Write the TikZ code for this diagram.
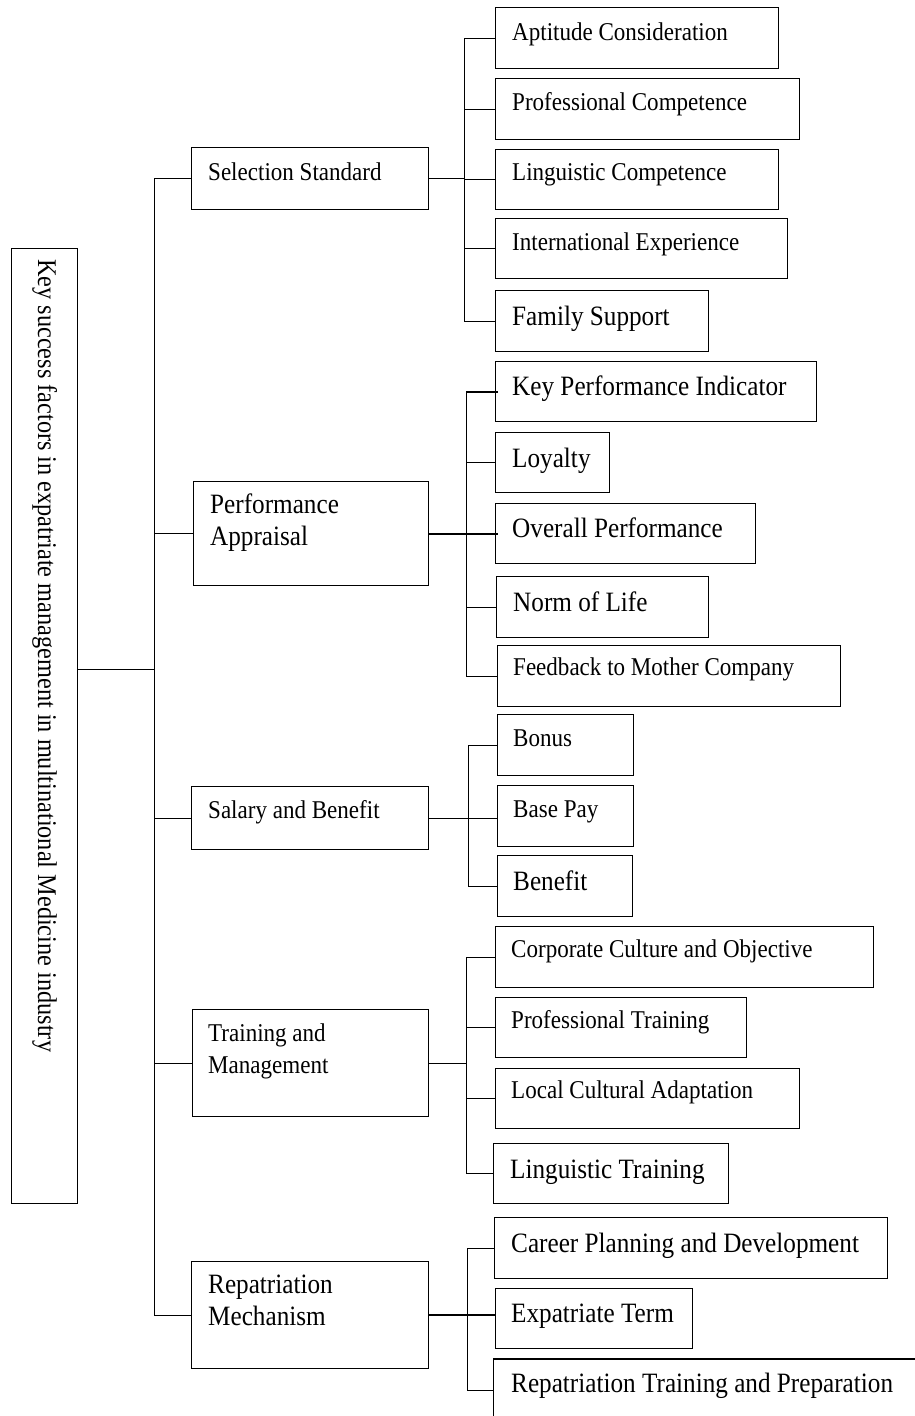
\documentclass[tikz,border=0pt]{standalone}
\usepackage{fontspec}
\setmainfont{Liberation Serif}[FakeStretch=0.9]
\newcommand\fsmall{\fontsize{25.6}{30}\selectfont}
\newcommand\flarge{\fontsize{28}{32}\selectfont}
\newcommand\froot{\fontsize{27}{32}\selectfont}
\tikzset{
  boxn/.style={draw=black, line width=1.2pt, inner sep=0pt, anchor=north west},
  lbl/.style={anchor=base west, inner sep=0pt, text=black},
  sm/.style={lbl, font=\fsmall},
  lg/.style={lbl, font=\flarge},
  conn/.style={line width=1pt},
  mconn/.style={line width=1.6pt},
  tconn/.style={line width=2.2pt},
}
\newcommand\bx[5]{\node[boxn, minimum width=#4pt, minimum height=#5pt] (#1) at (#2,#3) {};}
\begin{document}
\begin{tikzpicture}[x=1pt,y=-1pt]
\useasboundingbox (0,0) rectangle (915,1416);
\clip (0,0) rectangle (915,1416);
\fill[white] (0,0) rectangle (915,1416);

% root
\bx{root}{11}{248}{66}{955}
\node[lbl, font=\froot, rotate=-90] (root-t) at (38,259) {Key success factors in expatriate management in multinational Medicine industry};

% level 1
\bx{sel}{191}{147}{237}{62}
\node[sm] (sel-t) at (208,180) {Selection Standard};
\bx{perf}{193}{481}{235}{104}
\node[lg] (perf-t1) at (210,513) {Performance};
\node[lg] (perf-t2) at (210,545) {Appraisal};
\bx{sal}{191}{786}{237}{63}
\node[sm] (sal-t) at (208,818) {Salary and Benefit};
\bx{train}{192}{1009}{236}{107}
\node[sm] (train-t1) at (208,1041) {Training and};
\node[sm] (train-t2) at (208,1073) {Management};
\bx{rep}{191}{1261}{237}{107}
\node[lg] (rep-t1) at (208,1293) {Repatriation};
\node[lg] (rep-t2) at (208,1325) {Mechanism};

% selection children
\bx{ac}{495}{7}{283}{61}
\node[sm] (ac-t) at (512,40) {Aptitude Consideration};
\bx{pc}{495}{78}{304}{61}
\node[sm] (pc-t) at (512,110) {Professional Competence};
\bx{lc}{495}{149}{283}{60}
\node[sm] (lc-t) at (512,180) {Linguistic Competence};
\bx{ie}{495}{218}{292}{60}
\node[sm] (ie-t) at (512,250) {International Experience};
\bx{fs}{495}{290}{213}{61}
\node[lg] (fs-t) at (512,325) {Family Support};

% performance children
\bx{kpi}{495}{361}{321}{60}
\node[lg] (kpi-t) at (512,395) {Key Performance Indicator};
\bx{lo}{495}{432}{114}{60}
\node[lg] (lo-t) at (512,467) {Loyalty};
\bx{op}{495}{503}{260}{60}
\node[lg] (op-t) at (512,537) {Overall Performance};
\bx{nl}{496}{576}{212}{61}
\node[lg] (nl-t) at (513,611) {Norm of Life};
\bx{fb}{497}{645}{343}{61}
\node[sm] (fb-t) at (513,675) {Feedback to Mother Company};

% salary children
\bx{bo}{497}{714}{136}{61}
\node[sm] (bo-t) at (513,746) {Bonus};
\bx{bp}{497}{785}{136}{61}
\node[sm] (bp-t) at (513,817) {Base Pay};
\bx{be}{497}{855}{135}{61}
\node[lg] (be-t) at (513,890) {Benefit};

% training children
\bx{cc}{495}{926}{378}{61}
\node[sm] (cc-t) at (511,957) {Corporate Culture and Objective};
\bx{pt}{495}{997}{251}{60}
\node[sm] (pt-t) at (511,1028) {Professional Training};
\bx{la}{495}{1068}{304}{60}
\node[sm] (la-t) at (511,1098) {Local Cultural Adaptation};
\bx{lt}{493}{1143}{235}{60}
\node[lg] (lt-t) at (510,1178) {Linguistic Training};

% repatriation children
\bx{cp}{494}{1217}{393}{61}
\node[lg] (cp-t) at (511,1252) {Career Planning and Development};
\bx{et}{495}{1288}{197}{60}
\node[lg] (et-t) at (511,1322) {Expatriate Term};
\bx{rt}{493}{1359}{440}{62}
\node[lg] (rt-t) at (511,1392) {Repatriation Training and Preparation};

% main spine
\coordinate (spJ) at (154,669);
\draw[conn] (root.east |- spJ) -- (spJ);
\draw[conn] (sel.west) -- (sel.west -| spJ) -- (rep.west -| spJ) -- (rep.west);
\draw[conn] (perf.west) -- (perf.west -| spJ);
\draw[conn] (sal.west) -- (sal.west -| spJ);
\draw[conn] (train.west) -- (train.west -| spJ);

% selection bus
\coordinate (busS) at (464,0);
\draw[conn] (sel.east) -- (sel.east -| busS);
\draw[conn] (busS |- ac.west) -- (busS |- fs.west);
\foreach \n in {ac,pc,lc,ie,fs} \draw[conn] (busS |- \n.west) -- (\n.west);

% performance bus
\coordinate (busP) at (466,0);
\draw[conn] (busP |- kpi.west) -- (busP |- fb.west);
\draw[tconn] (busP |- kpi.west) -- ([xshift=3pt]kpi.west);
\draw[mconn] (busP |- lo.west) -- (lo.west);
\draw[tconn] (perf.east) -- ([xshift=3pt]perf.east -| op.west);
\foreach \n in {nl,fb} \draw[conn] (busP |- \n.west) -- (\n.west);

% salary bus
\coordinate (busSa) at (468,0);
\draw[conn] (busSa |- bo.west) -- (busSa |- be.west);
\draw[conn] (sal.east) -- (sal.east -| bp.west);
\foreach \n in {bo,be} \draw[conn] (busSa |- \n.west) -- (\n.west);

% training bus
\coordinate (busT) at (466,0);
\draw[conn] (busT |- cc.west) -- (busT |- lt.west);
\draw[conn] (train.east) -- (train.east -| busT);
\foreach \n in {cc,pt,la,lt} \draw[conn] (busT |- \n.west) -- (\n.west);

% repatriation bus
\coordinate (busR) at (467,0);
\draw[conn] (busR |- cp.west) -- (busR |- rt.west);
\draw[tconn] (rep.east) -- (rep.east -| et.west);
\foreach \n in {cp,rt} \draw[conn] (busR |- \n.west) -- (\n.west);
\draw[line width=2pt] (rt.north west) -- (rt.north east);
\end{tikzpicture}
\end{document}
